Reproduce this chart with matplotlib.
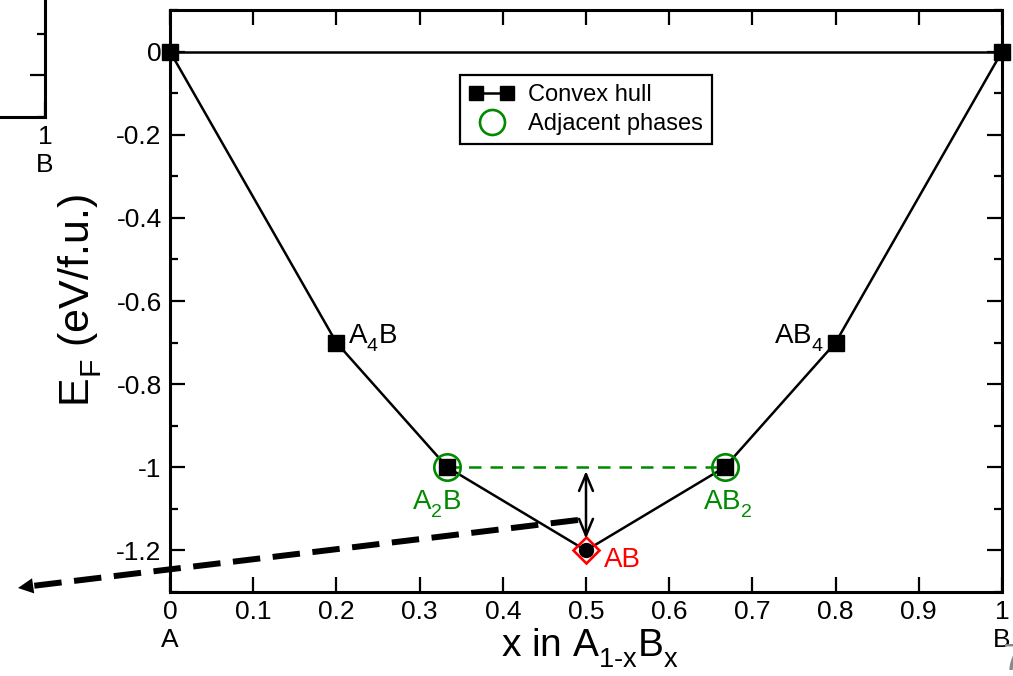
import matplotlib.pyplot as plt
import matplotlib._mathtext as mathtext
from matplotlib.lines import Line2D
from matplotlib.patches import FancyArrowPatch
from matplotlib.legend_handler import HandlerLine2D
from matplotlib.ticker import MultipleLocator

plt.rcParams['font.family'] = ['Liberation Sans', 'DejaVu Sans']
plt.rcParams['mathtext.fontset'] = 'custom'
plt.rcParams['mathtext.rm'] = 'Liberation Sans'
plt.rcParams['mathtext.it'] = 'Liberation Sans:italic'
# drop subscripts a bit lower, like the original plot
mathtext.FontConstantsBase.sub1 = 0.55

# convex hull of formation energies (eV/f.u.)
hull_x = [0, 0.2, 1/3, 0.5, 2/3, 0.8, 1]
hull_y = [0, -0.7, -1.0, -1.2, -1.0, -0.7, 0]
square_idx = [0, 1, 2, 4, 5, 6]
# adjacent phases of AB
adj_x = [1/3, 2/3]
adj_y = [-1.0, -1.0]
ab_x = [0.5]
ab_y = [-1.2]

x_ticks = [0, 0.1, 0.2, 0.3, 0.4, 0.5, 0.6, 0.7, 0.8, 0.9, 1]
x_labels = ['0\nA', '0.1', '0.2', '0.3', '0.4', '0.5', '0.6', '0.7', '0.8', '0.9', '1\nB']
y_ticks = [0, -0.2, -0.4, -0.6, -0.8, -1.0, -1.2]
y_labels = ['0', '-0.2', '-0.4', '-0.6', '-0.8', '-1', '-1.2']

GREEN = '#008a00'
RED = '#ff0000'

fig = plt.figure(figsize=(10.13, 6.76), dpi=100)
W, H = 1013, 676


def style(a):
    a.set_xlim(0, 1)
    a.set_ylim(-1.3, 0.1)
    a.set_xticks(x_ticks)
    a.set_xticklabels(x_labels, fontsize=19, linespacing=1.2)
    a.set_yticks(y_ticks)
    a.set_yticklabels(y_labels, fontsize=19)
    a.yaxis.set_minor_locator(MultipleLocator(0.1))
    a.tick_params(which='both', direction='in', top=True, right=True, width=1.6)
    a.tick_params(which='major', length=10.5)
    a.tick_params(which='minor', length=5.5)
    a.tick_params(axis='x', pad=6)
    a.tick_params(axis='y', pad=6)
    for s in a.spines.values():
        s.set_linewidth(2.2)


# piece of the previous panel, cut off at the left edge
ax0 = fig.add_axes([(45 - 832) / W, (H - 117) / H, 832 / W, 582 / H])
style(ax0)

ax = fig.add_axes([170 / W, (H - 592) / H, 832 / W, 582 / H])
style(ax)

ax.plot(hull_x, hull_y, color='k', lw=1.8, zorder=3)
ax.plot([hull_x[0], hull_x[-1]], [hull_y[0], hull_y[-1]], color='k', lw=1.8, zorder=3)
ax.plot([hull_x[i] for i in square_idx], [hull_y[i] for i in square_idx],
        ls='none', marker='s', ms=11, color='k', zorder=4, clip_on=False)
ax.plot(adj_x, adj_y, color=GREEN, lw=1.8, dashes=(5, 3.6), zorder=3)
ax.plot(adj_x, adj_y, ls='none', marker='o', ms=19, mfc='none', mec=GREEN,
        mew=1.9, zorder=5)
ax.plot(ab_x, ab_y, ls='none', marker='o', ms=10, color='k', zorder=5)
ax.plot(ab_x, ab_y, ls='none', marker='D', ms=13, mfc='none', mec=RED,
        mew=1.9, zorder=6)

ax.annotate('', xy=(ab_x[0], -1.172), xytext=(ab_x[0], -1.009),
            arrowprops=dict(arrowstyle='<->,head_length=0.6,head_width=0.25',
                            lw=1.8, color='k', mutation_scale=20,
                            shrinkA=0, shrinkB=0), zorder=6)

ax.text(0.214, -0.702, r'$\mathregular{A_4B}$', fontsize=20, ha='left', va='baseline')
ax.text(0.786, -0.702, r'$\mathregular{AB_4}$', fontsize=20, ha='right', va='baseline')
ax.text(0.321, -1.101, r'$\mathregular{A_2B}$', fontsize=20, ha='center',
        va='baseline', color=GREEN)
ax.text(0.670, -1.101, r'$\mathregular{AB_2}$', fontsize=20, ha='center',
        va='baseline', color=GREEN)
ax.text(0.521, -1.240, 'AB', fontsize=20, ha='left', va='baseline', color=RED)

ax.set_ylabel(r'$\mathregular{E_F}$ (eV/f.u.)', fontsize=31)
ax.yaxis.set_label_coords(-0.079, 0.5)
ax.set_xlabel(r'x in A$\mathregular{_{1\text{-}x}}$B$\mathregular{_x}$', fontsize=28)
ax.xaxis.set_label_coords(0.505, -0.060)

h_hull = Line2D([], [], color='k', lw=1.8, marker='s', ms=10)
h_adj = Line2D([], [], ls='none', marker='o', ms=18, mfc='none', mec=GREEN, mew=1.9)
leg = ax.legend([h_hull, h_adj], ['Convex hull', 'Adjacent phases'], loc='upper left',
                bbox_to_anchor=(0.349, 0.888), borderaxespad=0, fontsize=17,
                fancybox=False, framealpha=1, edgecolor='k', handlelength=1.9,
                handletextpad=0.6, labelspacing=0.3, borderpad=0.38,
                handler_map={h_hull: HandlerLine2D(numpoints=2),
                             h_adj: HandlerLine2D(numpoints=1)})
leg.get_frame().set_linewidth(1.6)

# dashed pointer running out of the panel to the left
start = (578 / W, 1 - 520 / H)
base = (32 / W, 1 - 586 / H)
tip = (18 / W, 1 - 588 / H)
fig.add_artist(Line2D([start[0], base[0]], [start[1], base[1]],
                      transform=fig.transFigure, color='k', lw=4.3,
                      dashes=(4.6, 2.1), zorder=10))
fig.add_artist(FancyArrowPatch(base, tip, transform=fig.transFigure,
                               arrowstyle='-|>,head_length=1.1,head_width=0.55',
                               mutation_scale=10, color='k', lw=0,
                               shrinkA=0, shrinkB=0, zorder=10))

fig.text(1002 / W, 1 - 643 / H, '7', fontsize=26, color='#888888',
         ha='left', va='top')

fig.savefig('out.png', dpi=100)
